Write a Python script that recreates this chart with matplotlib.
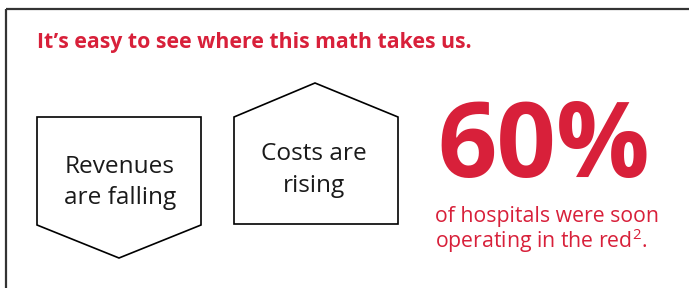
import matplotlib
matplotlib.use("Agg")
import matplotlib.pyplot as plt
from matplotlib.patches import Polygon

# ---- content ----
title = "It\u2019s easy to see where this math takes us."
falling_label = ["Revenues", "are falling"]
rising_label = ["Costs are", "rising"]
stat_value = 60
stat_caption = ["of hospitals were soon", "operating in the red$^{2}$."]

RED = "#D8203A"
FONT = "Open Sans"
plt.rcParams["mathtext.fontset"] = "custom"
plt.rcParams["mathtext.rm"] = FONT
plt.rcParams["mathtext.it"] = FONT
plt.rcParams["mathtext.default"] = "regular"

W, H = 689, 288
fig = plt.figure(figsize=(W / 100, H / 100), dpi=100)
ax = fig.add_axes([0, 0, 1, 1])
ax.set_xlim(0, W)
ax.set_ylim(H, 0)
ax.axis("off")

# frame (top and left)
ax.plot([5.5, W], [8.5, 8.5], color="#333333", lw=1.6, solid_capstyle="butt")
ax.plot([5.5, 5.5], [8.5, H], color="#333333", lw=1.6, solid_capstyle="butt")

# title
ax.text(37, 48, title, color=RED, fontsize=15.3, fontweight="bold",
        family=FONT, ha="left", va="baseline")

BODY = 17.6
# down-pointing pentagon
down = Polygon([(37, 117), (201, 117), (201, 225), (119, 258), (37, 225)],
               closed=True, fill=False, ec="black", lw=1.2, joinstyle="miter")
ax.add_patch(down)
ax.text(120, 173, falling_label[0], fontsize=BODY, family=FONT, color="#1a1a1a",
        ha="center", va="baseline")
ax.text(120, 204, falling_label[1], fontsize=BODY, family=FONT, color="#1a1a1a",
        ha="center", va="baseline")

# house shape
up = Polygon([(234, 117), (315, 83), (398, 117), (398, 224), (234, 224)],
             closed=True, fill=False, ec="black", lw=1.2, joinstyle="miter")
ax.add_patch(up)
ax.text(314, 160, rising_label[0], fontsize=BODY, family=FONT, color="#1a1a1a",
        ha="center", va="baseline")
ax.text(314, 192, rising_label[1], fontsize=BODY, family=FONT, color="#1a1a1a",
        ha="center", va="baseline")

# big stat
ax.text(437, 177, f"{stat_value}%", color=RED, fontsize=75, fontweight="bold",
        family=FONT, ha="left", va="baseline")
ax.text(435, 206, "\n".join(stat_caption), color=RED, fontsize=15.3,
        family=FONT, ha="left", va="top", linespacing=0.95)

fig.savefig("out.png", dpi=100)
